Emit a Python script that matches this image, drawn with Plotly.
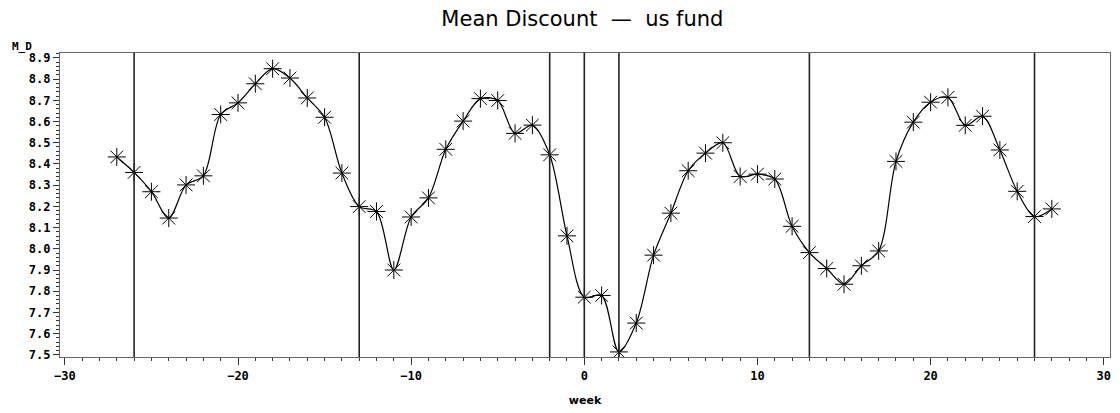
import plotly.graph_objects as go

# Weekly mean discount for the US fund
weeks = list(range(-27, 28))
mean_discount = [
    8.433, 8.360, 8.269, 8.145, 8.301, 8.344, 8.633, 8.688, 8.778, 8.849,
    8.805, 8.711, 8.620, 8.357, 8.199, 8.176, 7.900, 8.150, 8.240, 8.469,
    8.602, 8.708, 8.699, 8.544, 8.583, 8.443, 8.061, 7.772, 7.780, 7.514,
    7.650, 7.970, 8.168, 8.368, 8.451, 8.500, 8.341, 8.352, 8.329, 8.106,
    7.982, 7.907, 7.833, 7.920, 7.990, 8.412, 8.597, 8.691, 8.714, 8.582,
    8.625, 8.466, 8.271, 8.152, 8.188,
]

# Reference weeks marked with vertical lines
ref_weeks = [-26, -13, -2, 0, 2, 13, 26]

y_ticks = [round(7.5 + 0.1 * i, 1) for i in range(15)]
x_ticks = [-30, -20, -10, 0, 10, 20, 30]

fig = go.Figure()
fig.add_trace(go.Scatter(
    x=weeks,
    y=mean_discount,
    mode="lines+markers",
    line=dict(color="black", width=1.2, shape="spline", smoothing=0.9),
    marker=dict(symbol="asterisk-open", size=15, color="black",
                line=dict(color="#222222", width=1)),
    showlegend=False,
    hoverinfo="x+y",
))

for w in ref_weeks:
    fig.add_shape(type="line", xref="x", yref="paper",
                  x0=w, x1=w, y0=0, y1=1,
                  line=dict(color="#222222", width=1.6))

title_text = "Mean Discount\u00a0\u00a0—\u00a0\u00a0us fund"

fig.update_layout(
    width=1120,
    height=413,
    margin=dict(l=60, r=9, t=53, b=54),
    paper_bgcolor="white",
    plot_bgcolor="white",
    title=dict(text=title_text, x=0.52, xanchor="center",
               y=0.955, yanchor="middle",
               font=dict(family="DejaVu Sans", size=21, color="black")),
    xaxis=dict(
        range=[-30.28, 30.36],
        tickvals=x_ticks,
        ticktext=[f"{v:d}".replace("-", "−") for v in x_ticks],
        ticks="outside", ticklen=7, tickwidth=1.4, tickcolor="#333333",
        minor=dict(dtick=1, ticks="outside", ticklen=3, tickcolor="#333333"),
        showgrid=False, zeroline=False,
        showline=True, linecolor="#666666", linewidth=1.3, mirror=True,
        tickfont=dict(family="DejaVu Sans Mono", size=12, color="black",
                      weight="bold"),
        title=dict(text="week", standoff=14,
                   font=dict(family="DejaVu Sans", size=11, color="black",
                             weight="bold")),
    ),
    yaxis=dict(
        range=[7.49, 8.923],
        tickvals=y_ticks,
        ticktext=[f"{v:.1f}" for v in y_ticks],
        ticks="outside", ticklen=6, tickwidth=1.3, tickcolor="#333333",
        minor=dict(dtick=0.02, ticks="outside", ticklen=3, tickcolor="#333333"),
        showgrid=False, zeroline=False,
        showline=True, linecolor="#666666", linewidth=1.3, mirror=True,
        tickfont=dict(family="DejaVu Sans Mono", size=12, color="black",
                      weight="bold"),
    ),
)

fig.add_annotation(text="M_D", xref="paper", yref="paper",
                   x=-0.048, y=1.0, xanchor="left", yanchor="bottom",
                   showarrow=False, yshift=-2,
                   font=dict(family="DejaVu Sans Mono", size=11, color="black",
                             weight="bold"))

fig.write_html("out.html")
